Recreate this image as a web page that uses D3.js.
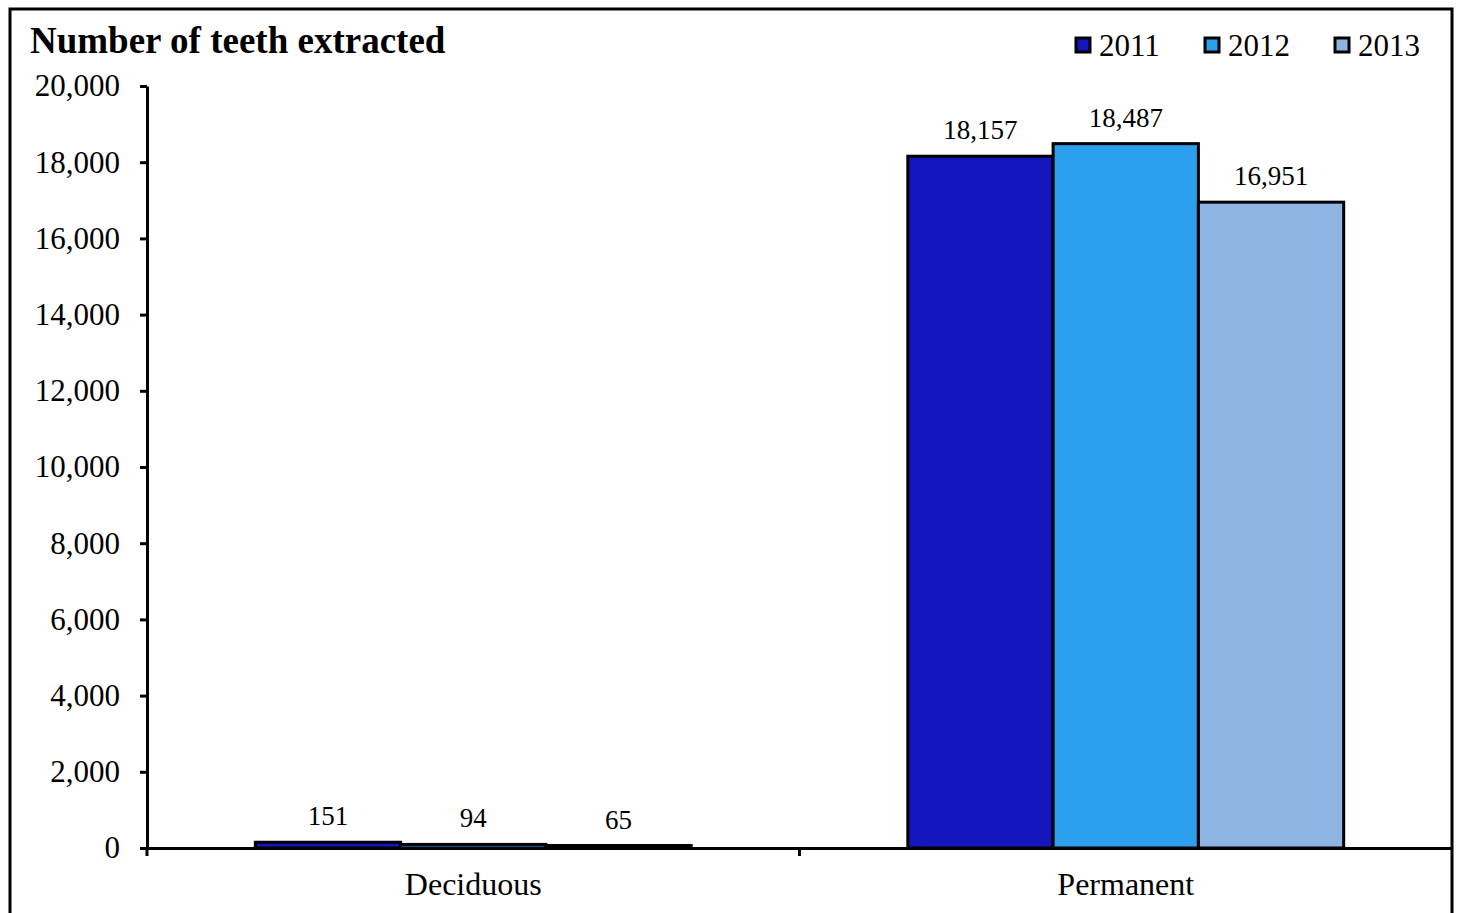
<!DOCTYPE html>
<html><head><meta charset="utf-8">
<script src="https://cdn.jsdelivr.net/npm/d3@7"></script>
<style>body{margin:0;background:#fff}svg{display:block}</style>
</head><body><svg id="c" width="1460" height="913"></svg>
<script>
const categories = ["Deciduous", "Permanent"];
const years = ["2011", "2012", "2013"];
const values2011 = [151, 18157];
const values2012 = [94, 18487];
const values2013 = [65, 16951];
const yTicks = [0, 2000, 4000, 6000, 8000, 10000, 12000, 14000, 16000, 18000, 20000];
const colors = ["#1515BE", "#2CA0EE", "#8EB4E3"];
const series = [values2011, values2012, values2013];

(function () {
const svg = d3.select("#c");
const font = "'Liberation Serif','Times New Roman',serif";
const plotLeft = 147, plotRight = 1452, plotTop = 86, plotBottom = 848;

svg.append("rect").attr("x", 10).attr("y", 9).attr("width", 1442).attr("height", 1000)
  .attr("fill", "none").attr("stroke", "#000").attr("stroke-width", 3);

const x = d3.scaleBand().domain(categories).range([plotLeft, plotRight]).paddingInner(0.332).paddingOuter(0.166);
const x1 = d3.scaleBand().domain(years).range([0, x.bandwidth()]);
const y = d3.scaleLinear().domain([0, 20000]).range([plotBottom, plotTop]);

// bars
categories.forEach((c, ci) => {
  years.forEach((yr, si) => {
    const v = series[si][ci];
    svg.append("rect")
      .attr("x", x(c) + x1(yr)).attr("y", y(v))
      .attr("width", x1.bandwidth()).attr("height", plotBottom - y(v))
      .attr("fill", colors[si]).attr("stroke", "#000").attr("stroke-width", 3);
    svg.append("text")
      .attr("x", x(c) + x1(yr) + x1.bandwidth() / 2).attr("y", y(v) - 17)
      .attr("text-anchor", "middle").attr("font-family", font).attr("font-size", 27)
      .text(d3.format(",")(v));
  });
});

// y axis
const yAxis = d3.axisLeft(y).tickValues(yTicks).tickFormat(d3.format(",")).tickSize(7).tickSizeOuter(0);
const gy = svg.append("g").attr("transform", `translate(${plotLeft},0)`).call(yAxis);
gy.select(".domain").attr("stroke", "#000").attr("stroke-width", 3);
gy.selectAll(".tick line").attr("stroke", "#000").attr("stroke-width", 3);
gy.selectAll(".tick text").attr("font-family", font).attr("font-size", 31).attr("fill", "#000").attr("x", -27);

// x axis
const xAxis = d3.axisBottom(x).tickSize(0).tickSizeOuter(0);
const gx = svg.append("g").attr("transform", `translate(0,${plotBottom})`).call(xAxis);
gx.select(".domain").attr("stroke", "#000").attr("stroke-width", 3);
gx.selectAll(".tick text").attr("font-family", font).attr("font-size", 32).attr("fill", "#000").attr("dy", 0).attr("y", 47);
// category separator ticks
const bounds = [plotLeft, (x(categories[0]) + x.bandwidth() + x(categories[1])) / 2];
bounds.forEach(b => {
  svg.append("line").attr("x1", b).attr("x2", b).attr("y1", plotBottom).attr("y2", plotBottom + 8)
    .attr("stroke", "#000").attr("stroke-width", 3);
});

// title
svg.append("text").attr("x", 30).attr("y", 53).attr("font-family", font).attr("font-weight", "bold")
  .attr("font-size", 37).text("Number of teeth extracted");

// legend
const legX = [1076, 1205, 1335];
years.forEach((yr, i) => {
  svg.append("rect").attr("x", legX[i]).attr("y", 38).attr("width", 14).attr("height", 14)
    .attr("fill", colors[i]).attr("stroke", "#000").attr("stroke-width", 3);
  svg.append("text").attr("x", legX[i] + 23).attr("y", 56).attr("font-family", font)
    .attr("font-size", 31).text(yr);
});
})();
</script></body></html>
